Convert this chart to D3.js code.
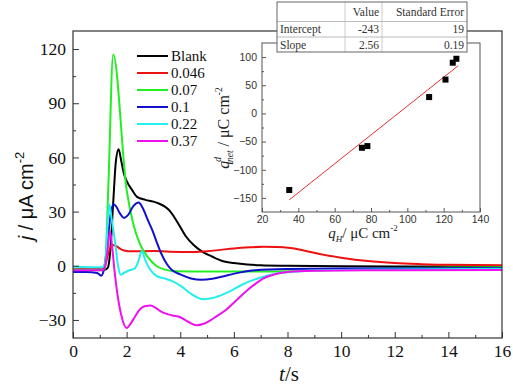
<!DOCTYPE html>
<html>
<head>
<meta charset="utf-8">
<script src="https://cdn.jsdelivr.net/npm/d3@7"></script>
<style>
  body { margin: 0; background: #fff; }
  svg { display: block; }
</style>
</head>
<body>
<svg id="chart" width="513" height="385" font-family="Liberation Serif"></svg>
<script>
// series labels and data, [t (s), j (uA cm^-2)]
const seriesLabels = ['Blank', '0.046', '0.07', '0.1', '0.22', '0.37'];
const seriesColors = ['#000000', '#ee1111', '#22ee22', '#1111cc', '#22eeee', '#ee11ee'];

const blank = [[0,-2],[1.0,-2],[1.2,-2],[1.3,-1],[1.4,10],[1.5,35],[1.6,58],[1.7,64.5],[1.8,58],[1.9,51],
  [2.0,47],[2.2,42],[2.4,38],[2.7,36.5],[3.0,35.5],[3.2,34.5],[3.4,33],[3.6,30.5],[3.9,24],[4.2,16.5],
  [4.5,11.5],[4.8,8],[5.2,5],[5.6,2.5],[6.0,1.5],[6.5,0.7],[7,0.3],[8,0],[10,-0.3],[12,-0.4],[16,-0.4]];
const c046 = [[0,-2],[1.1,-2],[1.2,0],[1.3,6],[1.45,11.5],[1.6,11],[1.75,9.5],[1.9,8.5],[2.2,8],[3,8.2],
  [3.6,7.8],[4.5,7.6],[5,8],[5.5,8.8],[6,9.6],[6.6,10.2],[7.1,10.5],[7.6,10.4],[8.1,9.8],[8.6,8.5],
  [9.2,6.5],[10,4.5],[11,2.6],[12,1.5],[13,0.9],[14,0.5],[16,0.3]];
const c07 = [[0,-2],[1.15,-2.5],[1.2,0],[1.32,45],[1.5,117],[2.0,42],[2.25,23],[2.5,12],[2.8,4.6],
  [3.1,0],[3.4,-2],[3.8,-3],[5,-3.2],[7,-3.2],[8,-3],[10,-2],[12,-1.3],[14,-1],[16,-0.8]];
const c1 = [[0,-3.5],[0.5,-3.5],[0.9,-4],[1.05,-5.5],[1.12,-4],[1.2,2],[1.3,15],[1.4,28],[1.5,34],
  [1.6,33],[1.75,29],[1.9,26.5],[2.05,28],[2.25,33],[2.45,35],[2.6,32],[2.8,25],[2.95,20],[3.1,14],
  [3.3,6.5],[3.5,1],[3.7,-2.5],[4.0,-4.8],[4.4,-7],[4.8,-7.8],[5.2,-7.2],[5.7,-5.5],[6.2,-3.8],
  [6.8,-2.5],[8,-1.8],[10,-1.5],[16,-1.3]];
const c22 = [[0,-0.5],[1.1,-0.8],[1.2,2],[1.3,25],[1.35,34],[1.45,25],[1.57,13],[1.68,0],[1.78,-5],
  [1.9,-4],[2.1,-2.5],[2.3,-1.5],[2.45,3],[2.56,8],[2.7,3],[2.85,-1.5],[3.1,-5.5],[3.4,-7],[3.7,-8.5],
  [4.0,-11],[4.4,-15.5],[4.85,-18.5],[5.3,-17.5],[5.8,-14.5],[6.3,-10.5],[7,-6.5],[7.5,-4.5],
  [8.5,-3],[10,-2.3],[12,-2],[16,-1.6]];
const c37 = [[0,-2.5],[1.1,-2.5],[1.2,0],[1.3,10],[1.38,19],[1.45,12],[1.55,-3],[1.65,-15],[1.82,-28.5],
  [2.0,-34.5],[2.15,-32],[2.3,-28.5],[2.5,-24],[2.7,-22.3],[2.9,-22],[3.1,-23.5],[3.3,-25.5],[3.7,-27.5],
  [4.0,-28.5],[4.3,-31],[4.6,-33],[4.9,-32],[5.3,-28.5],[5.7,-24.5],[6.1,-19],[6.5,-13.5],[6.8,-10],
  [7.1,-7],[7.5,-4.8],[8,-3.5],[9,-2.8],[11,-2.5],[16,-2.3]];
const seriesData = [blank, c046, c07, c1, c22, c37];

const xTicks = [0, 2, 4, 6, 8, 10, 12, 14, 16];
const xMinor = [1, 3, 5, 7, 9, 11, 13, 15];
const yTicks = [-30, 0, 30, 60, 90, 120];
const yMinor = [-15, 15, 45, 75, 105];

// inset: q_H vs q_net
const qH   = [35, 75, 78, 112, 121, 125, 127];
const qNet = [-136, -61, -58, 29, 60, 90, 97];
const fitIntercept = -243, fitSlope = 2.56;
const fitRange = [35, 128];
const insetXTicks = [20, 40, 60, 80, 100, 120, 140];
const insetXMinor = [30, 50, 70, 90, 110, 130];
const insetYTicks = [-150, -100, -50, 0, 50, 100];
const insetYMinor = [-125, -75, -25, 25, 75];

const tableHead = ['', 'Value', 'Standard Error'];
const tableRows = [['Intercept', '-243', '19'], ['Slope', '2.56', '0.19']];

const SERIF = 'Liberation Serif';
const SANS  = 'Liberation Sans';

const svg = d3.select('#chart');

// ---- main plot ----
const x = d3.scaleLinear().domain([0, 16]).range([73, 502]);
const y = d3.scaleLinear().domain([-40, 130]).range([338, 31]);

const main = svg.append('g').attr('class', 'main');

const line = d3.line().x(d => x(d[0])).y(d => y(d[1])).curve(d3.curveMonotoneX);
main.selectAll('.series')
  .data(seriesData)
  .enter().append('path')
    .attr('class', 'series')
    .attr('fill', 'none')
    .attr('stroke', (d, i) => seriesColors[i])
    .attr('stroke-width', 2)
    .attr('stroke-linejoin', 'round')
    .attr('d', line);

main.append('rect')
  .attr('x', x(0)).attr('y', y(130))
  .attr('width', x(16) - x(0)).attr('height', y(-40) - y(130))
  .attr('fill', 'none').attr('stroke', '#333').attr('stroke-width', 1.2);

main.append('g').attr('transform', `translate(0,${y(-40)})`)
  .call(d3.axisBottom(x).tickValues(xTicks).tickSizeInner(-6).tickSizeOuter(0).tickPadding(7));
main.append('g').attr('transform', `translate(0,${y(-40)})`)
  .call(d3.axisBottom(x).tickValues(xMinor).tickSize(-3).tickFormat(''));
main.append('g').attr('transform', `translate(${x(0)},0)`)
  .call(d3.axisLeft(y).tickValues(yTicks).tickSizeInner(-6).tickSizeOuter(0).tickPadding(7));
main.append('g').attr('transform', `translate(${x(0)},0)`)
  .call(d3.axisLeft(y).tickValues(yMinor).tickSize(-3).tickFormat(''));

main.selectAll('.domain').remove();
main.selectAll('.tick line').attr('stroke', '#333');
main.selectAll('.tick text')
  .style('font-family', SERIF)
  .style('font-size', '17.5px')
  .style('fill', '#111');

// axis titles
const yTitle = main.append('text')
  .attr('transform', 'translate(33,196) rotate(-90)')
  .attr('text-anchor', 'middle')
  .style('font-size', '20px')
  .style('font-family', SANS)
  .style('fill', '#111');
yTitle.append('tspan').attr('font-style', 'italic').text('j');
yTitle.append('tspan').text(' / μA cm');
yTitle.append('tspan').attr('dy', -9).style('font-size', '13px').text('-2');

const xTitle = main.append('text')
  .attr('x', 289).attr('y', 381)
  .attr('text-anchor', 'middle')
  .style('font-size', '21px')
  .style('font-family', SERIF)
  .style('fill', '#111');
xTitle.append('tspan').attr('font-style', 'italic').text('t');
xTitle.append('tspan').text('/s');

// legend
const legend = main.append('g').selectAll('g')
  .data(seriesLabels)
  .enter().append('g')
    .attr('transform', (d, i) => `translate(137,${56 + i * 17})`);
legend.append('line')
  .attr('x1', 0).attr('x2', 31)
  .attr('stroke', (d, i) => seriesColors[i])
  .attr('stroke-width', 2);
legend.append('text')
  .attr('x', 34).attr('dy', '0.33em')
  .style('font-size', '15px')
  .style('font-family', SERIF)
  .style('fill', '#111')
  .text(d => d);

// ---- inset ----
const ix = d3.scaleLinear().domain([20, 140]).range([262, 480]);
const iy = d3.scaleLinear().domain([-175, 125]).range([212, 43]);
const inset = svg.append('g').attr('class', 'inset');

inset.append('rect')
  .attr('x', ix(20)).attr('y', iy(125))
  .attr('width', ix(140) - ix(20)).attr('height', iy(-175) - iy(125))
  .attr('fill', '#fff').attr('stroke', '#555').attr('stroke-width', 1);

inset.append('g').attr('transform', `translate(0,${iy(-175)})`)
  .call(d3.axisBottom(ix).tickValues(insetXTicks).tickSizeInner(-4).tickSizeOuter(0).tickPadding(4));
inset.append('g').attr('transform', `translate(0,${iy(-175)})`)
  .call(d3.axisBottom(ix).tickValues(insetXMinor).tickSize(-2).tickFormat(''));
inset.append('g').attr('transform', `translate(${ix(20)},0)`)
  .call(d3.axisLeft(iy).tickValues(insetYTicks).tickSizeInner(-4).tickSizeOuter(0).tickPadding(5));
inset.append('g').attr('transform', `translate(${ix(20)},0)`)
  .call(d3.axisLeft(iy).tickValues(insetYMinor).tickSize(-2).tickFormat(''));
inset.selectAll('.domain').remove();
inset.selectAll('.tick line').attr('stroke', '#555');
inset.selectAll('.tick text')
  .style('font-family', SANS)
  .style('font-size', '10.5px')
  .style('fill', '#333');

inset.append('line')
  .attr('x1', ix(fitRange[0])).attr('y1', iy(fitIntercept + fitSlope * fitRange[0]))
  .attr('x2', ix(fitRange[1])).attr('y2', iy(fitIntercept + fitSlope * fitRange[1]))
  .attr('stroke', '#e03030').attr('stroke-width', 1);

inset.selectAll('.pt')
  .data(qH)
  .enter().append('rect')
    .attr('class', 'pt')
    .attr('x', d => ix(d) - 3)
    .attr('y', (d, i) => iy(qNet[i]) - 3)
    .attr('width', 6).attr('height', 6)
    .attr('fill', '#000');

const iyTitle = inset.append('text')
  .attr('transform', 'translate(229,128) rotate(-90)')
  .attr('text-anchor', 'middle')
  .style('font-size', '16px')
  .style('font-family', SERIF)
  .style('fill', '#222');
iyTitle.append('tspan').attr('font-style', 'italic').text('q');
iyTitle.append('tspan').attr('dy', -8).attr('dx', -1).style('font-size', '9.5px').attr('font-style', 'italic').text('d');
iyTitle.append('tspan').attr('dy', 12).attr('dx', -5).style('font-size', '9.5px').attr('font-style', 'italic').text('net');
iyTitle.append('tspan').attr('dy', -4).text(' / μC cm');
iyTitle.append('tspan').attr('dy', -7).style('font-size', '9.5px').text('-2');

const ixTitle = inset.append('text')
  .attr('x', 363).attr('y', 238)
  .attr('text-anchor', 'middle')
  .style('font-size', '15px')
  .style('font-family', SERIF)
  .style('fill', '#222');
ixTitle.append('tspan').attr('font-style', 'italic').text('q');
ixTitle.append('tspan').attr('dy', 4).style('font-size', '9px').attr('font-style', 'italic').text('H');
ixTitle.append('tspan').attr('dy', -4).text('/ μC cm');
ixTitle.append('tspan').attr('dy', -7).style('font-size', '9px').text('-2');

// ---- fit table ----
const colX = [277, 345, 382, 467];
const rowY = [2, 21.5, 37, 52];
const table = svg.append('g').attr('class', 'table');
table.append('rect')
  .attr('x', colX[0]).attr('y', rowY[0])
  .attr('width', colX[3] - colX[0]).attr('height', rowY[3] - rowY[0])
  .attr('fill', '#fff');
colX.slice(1, 3).forEach(cx => table.append('line')
  .attr('x1', cx).attr('x2', cx).attr('y1', rowY[0]).attr('y2', rowY[3])
  .attr('stroke', '#ccc'));
rowY.slice(1, 3).forEach(ry => table.append('line')
  .attr('x1', colX[0]).attr('x2', colX[3]).attr('y1', ry).attr('y2', ry)
  .attr('stroke', '#bbb'));
table.append('rect')
  .attr('x', colX[0]).attr('y', rowY[0])
  .attr('width', colX[3] - colX[0]).attr('height', rowY[3] - rowY[0])
  .attr('fill', 'none').attr('stroke', '#666');

const cellText = (txt, col, row) => {
  const left = col === 0;
  table.append('text')
    .attr('x', left ? colX[col] + 3 : colX[col + 1] - 3)
    .attr('y', (rowY[row] + rowY[row + 1]) / 2)
    .attr('dy', '0.35em')
    .attr('text-anchor', left ? 'start' : 'end')
    .style('font-family', SERIF)
    .style('font-size', '11.5px')
    .style('fill', '#333')
    .text(txt);
};
tableHead.forEach((t, c) => cellText(t, c, 0));
tableRows.forEach((r, ri) => r.forEach((t, c) => cellText(t, c, ri + 1)));
</script>
</body>
</html>
